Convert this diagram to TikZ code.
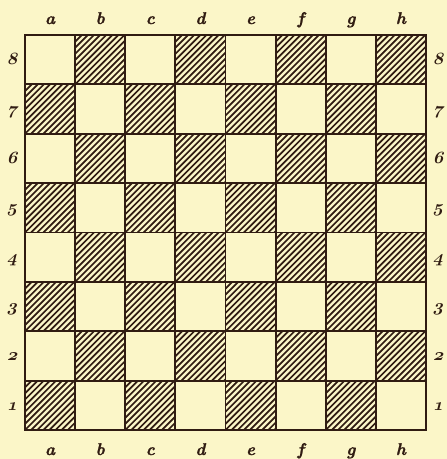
\documentclass[tikz,border=0pt]{standalone}
\usepackage{xcolor}
\usepackage{fontspec}
\usepackage{tikz}

\newfontfamily\lblfont{lmroman10-bolditalic}[Extension=.otf, FakeBold=1.2]
\definecolor{paper}{RGB}{251,246,200}
\definecolor{ink}{RGB}{48,28,18}
\newcommand{\ranknum}[1]{{\usefont{OML}{cmm}{b}{it}#1}}

\begin{document}
\begin{tikzpicture}[
  x=1pt, y=-1pt,
  sq/.style={draw=ink, line width=1.9pt},
  hatch/.style={draw=ink, line width=1.7pt},
  frame/.style={draw=ink, line width=2.2pt},
  lbl/.style={text=ink, font=\fontsize{17}{17}\selectfont\lblfont,
              anchor=base, inner sep=0pt},
  num/.style={text=ink, font=\fontsize{17}{17}\selectfont,
              anchor=base, inner sep=0pt, transform shape, xslant=0.25}
]
  % paper
  \fill[paper] (0,0) rectangle (447,459);
  \useasboundingbox (0,0) rectangle (447,459);
  \def\bx{25}\def\by{35}\def\sw{50.125}\def\sh{49.375}
  % hatched squares
  \foreach \f in {0,...,7}{
    \foreach \r in {0,...,7}{
      \pgfmathtruncatemacro{\odd}{mod(\f+\r,2)}
      \ifnum\odd=1
        \begin{scope}
          \clip (\bx+\f*\sw,\by+\r*\sh) rectangle (\bx+\f*\sw+\sw,\by+\r*\sh+\sh);
          \foreach \k in {-9,...,9}
            \draw[hatch] (\bx+\f*\sw+\k*6.1,\by+\r*\sh+\sh)
              -- ++(\sh,-\sh);
        \end{scope}
      \fi
    }
  }
  \foreach \i in {1,...,7}{
    \draw[sq] (\bx+\i*\sw,\by) -- (\bx+\i*\sw,\by+8*\sh);
    \draw[sq] (\bx,\by+\i*\sh) -- (\bx+8*\sw,\by+\i*\sh);
  }
  \draw[frame] (\bx,\by) rectangle (\bx+8*\sw,\by+8*\sh);
  % files
  \foreach \l [count=\i from 0] in {a,b,c,d,e,f,g,h}{
    \node[lbl] (top\l) at (\bx+\i*\sw+0.5*\sw,24) {\l};
    \node[lbl] (bot\l) at (\bx+\i*\sw+0.5*\sw,455) {\l};
  }
  % ranks
  \foreach \n in {1,...,8}{
    \node[num] (left\n) at (12,\by+8*\sh-\n*\sh+0.5*\sh+5) {\ranknum{\n}};
    \node[num] (right\n) at (438,\by+8*\sh-\n*\sh+0.5*\sh+5) {\ranknum{\n}};
  }
\end{tikzpicture}
\end{document}
